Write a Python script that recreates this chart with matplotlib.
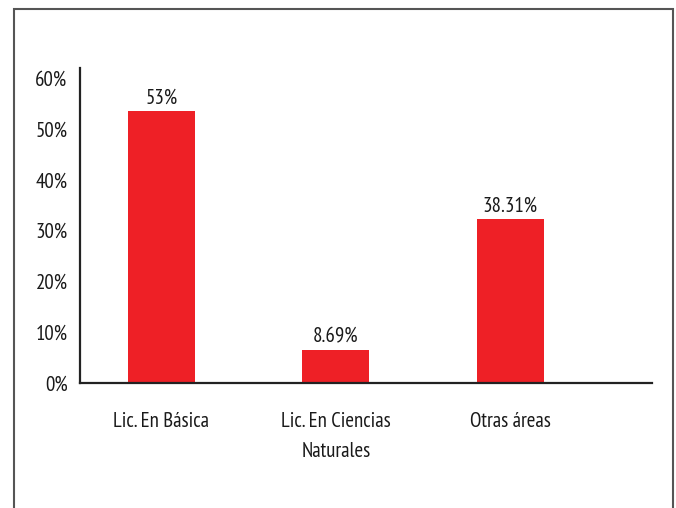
import matplotlib
matplotlib.use("Agg")
import matplotlib.pyplot as plt
import matplotlib.patches as mpatches

# Data
categories = ["Lic. En Básica", "Lic. En Ciencias\nNaturales", "Otras áreas"]
bar_heights = [53.5, 6.5, 32.3]          # drawn heights (%)
value_labels = ["53%", "8.69%", "38.31%"]  # printed labels
y_ticks = [0, 10, 20, 30, 40, 50, 60]

plt.rcParams['font.family'] = ['PT Sans Narrow', 'DejaVu Sans']

red = "#ee2026"
txt = "#1a1a1a"
fs = 15

fig = plt.figure(figsize=(6.76, 5.08), dpi=100)
ax = fig.add_axes([80 / 676, 1 - 383 / 508, (652 - 80) / 676, (383 - 68) / 508])

x = list(range(len(categories)))
bars = ax.bar(x, bar_heights, width=0.384, color=red)

for b, lab in zip(bars, value_labels):
    ax.annotate(lab, (b.get_x() + b.get_width() / 2, b.get_height()),
                xytext=(0, 2.5), textcoords="offset points",
                ha="center", va="bottom", fontsize=fs, color=txt)

ax.set_xlim(-0.467, 2.814)
ax.set_ylim(0, 62)
ax.set_yticks(y_ticks)
ax.set_yticklabels([f"{t}%" for t in y_ticks], fontsize=fs, color=txt)
ax.set_xticks(x)
ax.set_xticklabels(categories, fontsize=fs, color=txt, linespacing=1.75)
ax.tick_params(axis="y", length=0, pad=9)
ax.tick_params(axis="x", length=0, pad=21)

for s in ["top", "right"]:
    ax.spines[s].set_visible(False)
for s in ["left", "bottom"]:
    ax.spines[s].set_linewidth(1.6)
    ax.spines[s].set_color("#222222")

# outer frame around the figure
frame = mpatches.Rectangle((14 / 676, -0.05), (673 - 14) / 676, 1.05 - 9 / 508,
                           transform=fig.transFigure, fill=False,
                           edgecolor="#555555", linewidth=1.5)
fig.patches.append(frame)

fig.savefig("out.png", dpi=100)
